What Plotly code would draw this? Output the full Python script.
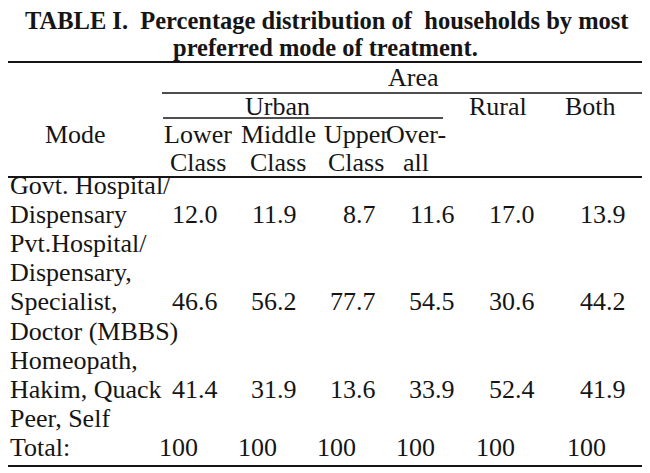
import plotly.graph_objects as go

# judul dan kepala tabel
title_lines = ["TABLE I.&nbsp;&nbsp;Percentage distribution of&nbsp;&nbsp;households by most",
               "preferred mode of treatment."]
area_label = "Area"
urban_label = "Urban"
mode_label = "Mode"
urban_groups = [["Lower", "Class"], ["Middle", "Class"], ["Upper", "Class"], ["Over-", "all"]]
other_groups = ["Rural", "Both"]

# baris (mode) dan nilai persen
modes = [["Govt. Hospital/", "Dispensary"],
         ["Pvt.Hospital/", "Dispensary,", "Specialist,", "Doctor (MBBS)"],
         ["Homeopath,", "Hakim, Quack", "Peer, Self"]]
lower_class = [12.0, 46.6, 41.4]
middle_class = [11.9, 56.2, 31.9]
upper_class = [8.7, 77.7, 13.6]
urban_overall = [11.6, 54.5, 33.9]
rural = [17.0, 30.6, 52.4]
both = [13.9, 44.2, 41.9]
total_label = "Total:"
totals = [100, 100, 100, 100, 100, 100]

columns = [lower_class, middle_class, upper_class, urban_overall, rural, both]

# posisi (gaya) dalam koordinat piksel halaman
W, H = 650, 473
OFF = 8  # margin bawaan <body> di halaman HTML
FONT = "Liberation Serif, Times New Roman, serif"
INK = "#151515"
SIZE = 26
col_right = [219, 298, 377, 456, 536, 627]
sub_center = [198, 278, 356, 416]
value_line = [1, 2, 1]
label_x = 8.5
y_first = 185
line_step = 29.2

fig = go.Figure()
ann = []

def txt(x, y, s, anchor="center", size=SIZE, bold=False):
    ann.append(dict(x=x, y=y, text=f"<b>{s}</b>" if bold else s, showarrow=False,
                    xanchor=anchor, yanchor="middle", borderpad=0,
                    font=dict(family=FONT, size=size, color=INK)))

# judul
txt(327, 20, title_lines[0], size=24.5, bold=True)
txt(325, 47, title_lines[1], size=24.5, bold=True)

# kepala kolom
txt(413, 77, area_label)
txt(277, 106, urban_label)
txt(498, 106, other_groups[0])
txt(590, 106, other_groups[1])
txt(75, 134, mode_label)
for cx, (a, b) in zip(sub_center, urban_groups):
    txt(cx, 134, a)
    txt(cx, 162, b)

# isi tabel
line = 0
for r, label in enumerate(modes):
    for k, s in enumerate(label):
        txt(label_x, y_first + (line + k) * line_step, s, anchor="left")
    yv = y_first + (line + value_line[r]) * line_step
    for c, col in enumerate(columns):
        txt(col_right[c], yv, f"{col[r]:.1f}", anchor="right")
    line += len(label)

yt = y_first + line * line_step
txt(label_x, yt, total_label, anchor="left")
for c, t in enumerate(totals):
    txt(col_right[c] - 20, yt, str(t), anchor="right")

# garis tabel
rules = [(0, W, 62, 2), (162, 648, 93, 1.5), (163, 443, 118, 1.5), (0, W, 177, 2), (8, W, 466, 2)]
shapes = [dict(type="line", x0=x0, x1=x1, y0=y, y1=y, xref="x", yref="y",
               line=dict(color=INK, width=w)) for x0, x1, y, w in rules]

fig.update_layout(
    width=W, height=H,
    margin=dict(l=0, r=0, t=0, b=0),
    paper_bgcolor="white", plot_bgcolor="white",
    xaxis=dict(range=[OFF, W + OFF], visible=False, fixedrange=True),
    yaxis=dict(range=[H + OFF, OFF], visible=False, fixedrange=True),
    annotations=ann, shapes=shapes, showlegend=False,
)

fig.write_html("out.html")
